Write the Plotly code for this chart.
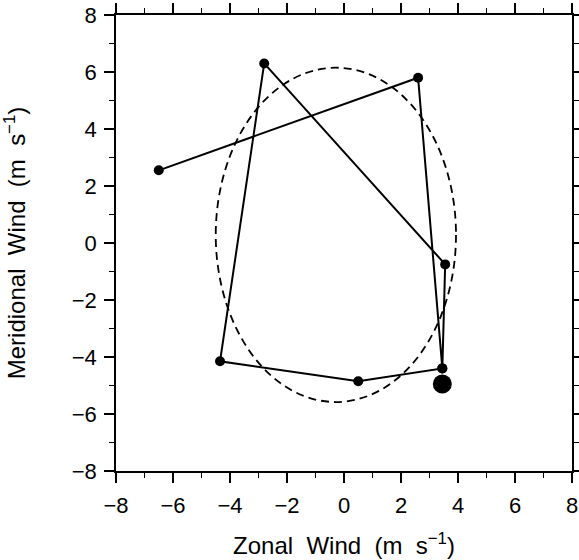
import plotly.graph_objects as go

# path of wind points (zonal u, meridional v)
u = [-6.5, 2.6, 3.45, 0.5, -4.35, -2.8, 3.55, 3.45]
v = [2.55, 5.8, -4.4, -4.85, -4.15, 6.3, -0.75, -4.4]
# highlighted point
u_big = [3.45]
v_big = [-4.95]
# dashed ellipse bounds
ell_u = [-4.5, 3.93]
ell_v = [-5.58, 6.15]

tickvals = [-8, -6, -4, -2, 0, 2, 4, 6, 8]

FONT = "Liberation Sans, Arial"
NB = "\u00a0"

fig = go.Figure()
fig.add_trace(go.Scatter(x=u, y=v, mode="lines+markers",
                         line=dict(color="black", width=2),
                         marker=dict(color="black", size=10),
                         showlegend=False, cliponaxis=False))
fig.add_trace(go.Scatter(x=u_big, y=v_big, mode="markers",
                         marker=dict(color="black", size=19),
                         showlegend=False, cliponaxis=False))
fig.add_shape(type="circle", xref="x", yref="y",
              x0=ell_u[0], x1=ell_u[1], y0=ell_v[0], y1=ell_v[1],
              line=dict(color="black", width=1.8, dash="8px,5px"), layer="below")

axis_common = dict(range=[-8, 8], tickvals=tickvals, ticks="outside", ticklen=10,
                   tickwidth=1.6, tickcolor="black", showline=True, linecolor="black",
                   linewidth=1.6, mirror="allticks", showgrid=False, zeroline=False,
                   automargin=False,
                   minor=dict(dtick=1, ticks="outside", ticklen=5, tickwidth=1.2,
                              tickcolor="black", showgrid=False),
                   tickfont=dict(family=FONT, size=22, color="black"))

def title_text(name):
    return name.replace(" ", NB * 2) + NB * 2 + "(m" + NB * 2 + "s<sup>−1</sup>)"

fig.update_xaxes(**axis_common, ticklabelstandoff=4,
                 title=dict(text=title_text("Zonal Wind"), standoff=20,
                            font=dict(family=FONT, size=24, color="black")))
fig.update_yaxes(**axis_common, ticklabelstandoff=3,
                 title=dict(text=title_text("Meridional Wind"), standoff=40,
                            font=dict(family=FONT, size=24, color="black")))

fig.update_layout(width=579, height=560,
                  margin=dict(l=116, r=7, t=15, b=89),
                  plot_bgcolor="white", paper_bgcolor="white")

fig.write_html("out.html")
